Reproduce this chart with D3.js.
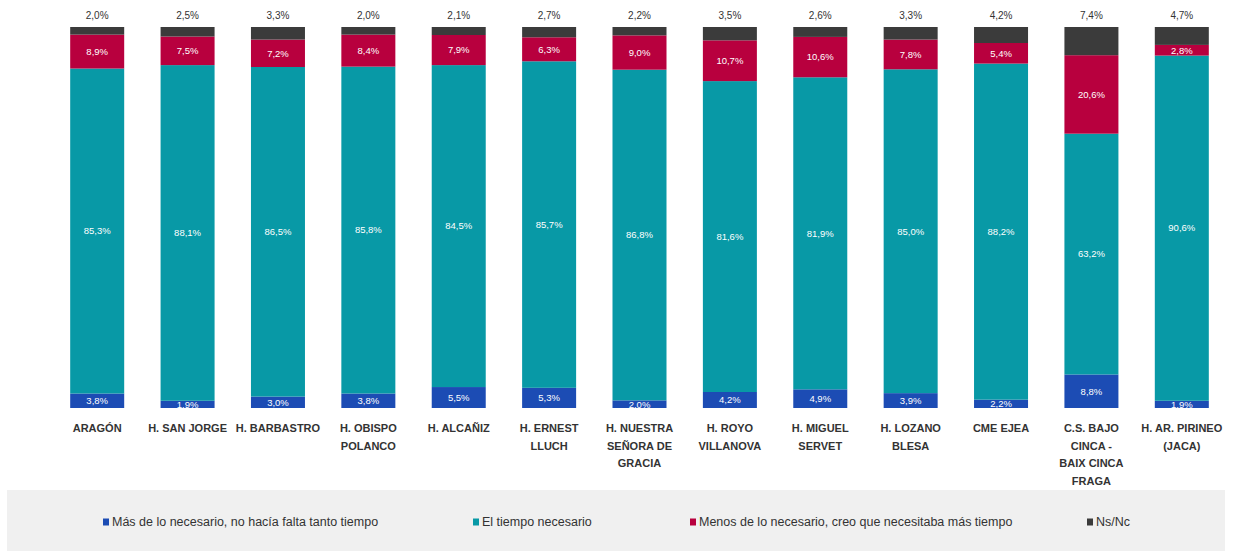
<!DOCTYPE html>
<html lang="es">
<head>
<meta charset="UTF-8">
<title>Tiempo de consulta</title>
<script src="https://d3js.org/d3.v7.min.js"></script>
<style>
  body { margin: 0; background: #fff; }
  text { font-family: "Liberation Sans", Arial, sans-serif; }
</style>
</head>
<body>
<script>
// datos (porcentajes)
var categorias = [
  ["ARAGÓN"], ["H. SAN JORGE"], ["H. BARBASTRO"], ["H. OBISPO", "POLANCO"],
  ["H. ALCAÑIZ"], ["H. ERNEST", "LLUCH"], ["H. NUESTRA", "SEÑORA DE", "GRACIA"],
  ["H. ROYO", "VILLANOVA"], ["H. MIGUEL", "SERVET"], ["H. LOZANO", "BLESA"],
  ["CME EJEA"], ["C.S. BAJO", "CINCA -", "BAIX CINCA", "FRAGA"], ["H. AR. PIRINEO", "(JACA)"]
];
var mas    = [3.8, 1.9, 3.0, 3.8, 5.5, 5.3, 2.0, 4.2, 4.9, 3.9, 2.2, 8.8, 1.9];
var tiempo = [85.3, 88.1, 86.5, 85.8, 84.5, 85.7, 86.8, 81.6, 81.9, 85.0, 88.2, 63.2, 90.6];
var menos  = [8.9, 7.5, 7.2, 8.4, 7.9, 6.3, 9.0, 10.7, 10.6, 7.8, 5.4, 20.6, 2.8];
var nsnc   = [2.0, 2.5, 3.3, 2.0, 2.1, 2.7, 2.2, 3.5, 2.6, 3.3, 4.2, 7.4, 4.7];

var series = ["mas", "tiempo", "menos", "nsnc"];
var nombres = ["Más de lo necesario, no hacía falta tanto tiempo", "El tiempo necesario",
  "Menos de lo necesario, creo que necesitaba más tiempo", "Ns/Nc"];
var colores = ["#1c4cb4", "#0899a6", "#b8003e", "#3b3b3b"];

var tabla = categorias.map(function (c, i) {
  return { i: i, mas: mas[i], tiempo: tiempo[i], menos: menos[i], nsnc: nsnc[i] };
});

var width = 1235, height = 552;
var svg = d3.select("body").append("svg")
  .attr("width", width).attr("height", height);

var x = d3.scalePoint().domain(d3.range(categorias.length)).range([52, 1227]).padding(0.5);
var y = d3.scaleLinear().domain([0, 1]).range([408, 27]);
var barW = 54;
var fmt = function (v) { return v.toFixed(1).replace(".", ",") + "%"; };

var stack = d3.stack().keys(series).offset(d3.stackOffsetExpand);
var capas = stack(tabla);

var g = svg.selectAll(".capa").data(capas).enter().append("g")
  .attr("class", "capa")
  .attr("fill", function (d, k) { return colores[k]; });

g.selectAll("rect").data(function (d) { return d; }).enter().append("rect")
  .attr("x", function (d) { return x(d.data.i) - barW / 2; })
  .attr("y", function (d) { return y(d[1]); })
  .attr("width", barW)
  .attr("height", function (d) { return y(d[0]) - y(d[1]); });

// etiquetas dentro de las barras (las tres primeras series)
capas.slice(0, 3).forEach(function (capa) {
  svg.append("g").selectAll("text").data(capa).enter().append("text")
    .attr("x", function (d) { return x(d.data.i); })
    .attr("y", function (d) { return (y(d[0]) + y(d[1])) / 2; })
    .attr("dy", "0.35em")
    .attr("text-anchor", "middle")
    .attr("font-size", 9.5)
    .attr("fill", "#fff")
    .text(function (d) { return fmt(d.data[capa.key]); });
});

// Ns/Nc encima de la barra
svg.append("g").selectAll("text").data(tabla).enter().append("text")
  .attr("x", function (d) { return x(d.i); })
  .attr("y", 19)
  .attr("text-anchor", "middle")
  .attr("font-size", 10)
  .attr("fill", "#333")
  .text(function (d) { return fmt(d.nsnc); });

// etiquetas de categoría
var cat = svg.append("g").selectAll("text").data(categorias).enter().append("text")
  .attr("x", function (d, i) { return x(i); })
  .attr("y", 432)
  .attr("text-anchor", "middle")
  .attr("font-size", 11)
  .attr("font-weight", "bold")
  .attr("fill", "#333");
cat.selectAll("tspan").data(function (d) { return d; }).enter().append("tspan")
  .attr("x", function () { return d3.select(this.parentNode).attr("x"); })
  .attr("dy", function (d, j) { return j === 0 ? 0 : 17.5; })
  .text(function (d) { return d; });

// leyenda
svg.append("rect").attr("x", 7).attr("y", 490).attr("width", 1218).attr("height", 61)
  .attr("fill", "#f0f0f0");
var legX = [103, 473, 690, 1087];
var ley = svg.append("g").selectAll("g").data(nombres).enter().append("g")
  .attr("transform", function (d, k) { return "translate(" + legX[k] + ",522)"; });
ley.append("rect").attr("x", 0).attr("y", -3.5).attr("width", 6).attr("height", 7)
  .attr("fill", function (d, k) { return colores[k]; });
ley.append("text").attr("x", 9).attr("dy", "0.35em")
  .attr("font-size", 12.5).attr("fill", "#333")
  .text(function (d) { return d; });
</script>
</body>
</html>
